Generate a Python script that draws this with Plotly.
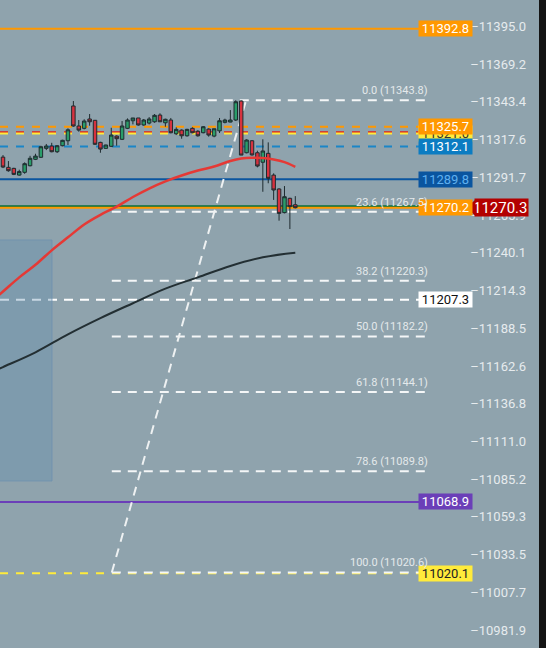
import plotly.graph_objects as go

# ---------------- data ----------------
candle_idx = list(range(55))
opens = [11304.9, 11297.9, 11297.2, 11292.6, 11294.5, 11299.0, 11303.4, 11304.8, 11310.9, 11312.5,
         11308.6, 11312.7, 11316.1, 11339.9, 11326.2, 11324.6, 11331.0, 11330.1, 11315.0, 11310.9,
         11312.3, 11319.3, 11317.1, 11324.6, 11329.8, 11331.7, 11326.9, 11328.2, 11329.1, 11333.7,
         11328.4, 11330.3, 11320.9, 11323.4, 11319.5, 11324.6, 11322.6, 11321.6, 11324.1, 11319.3,
         11322.9, 11328.7, 11328.9, 11330.3, 11343.3, 11307.9, 11316.1, 11307.9, 11301.4, 11307.5,
         11292.6, 11283.1, 11266.9, 11276.7, 11272.3]
highs = [11306.3, 11302.2, 11297.6, 11296.3, 11301.3, 11305.8, 11307.2, 11312.7, 11313.9, 11314.7,
         11313.2, 11316.8, 11324.6, 11343.3, 11330.3, 11330.8, 11334.4, 11330.3, 11315.4, 11313.4,
         11325.0, 11319.8, 11329.6, 11331.4, 11331.7, 11331.7, 11331.0, 11332.3, 11334.4, 11334.9,
         11331.2, 11331.7, 11325.3, 11323.9, 11324.3, 11325.3, 11323.4, 11326.2, 11324.6, 11324.3,
         11331.7, 11331.2, 11337.1, 11343.8, 11343.8, 11317.1, 11316.6, 11309.3, 11317.1, 11315.0,
         11293.8, 11283.6, 11285.1, 11277.1, 11278.2]
lows = [11297.4, 11294.9, 11292.6, 11292.2, 11293.5, 11298.6, 11302.9, 11304.3, 11309.7, 11308.2,
        11307.7, 11312.3, 11313.2, 11325.7, 11322.3, 11323.9, 11326.4, 11313.2, 11307.9, 11310.6,
        11311.8, 11312.7, 11316.6, 11324.1, 11327.3, 11326.4, 11326.4, 11327.3, 11328.4, 11328.9,
        11325.7, 11321.2, 11320.0, 11317.5, 11318.9, 11321.2, 11318.9, 11321.2, 11318.9, 11318.5,
        11321.4, 11328.0, 11328.7, 11329.6, 11306.3, 11307.5, 11305.9, 11297.9, 11281.2, 11287.0,
        11275.6, 11261.4, 11266.4, 11255.7, 11269.8]
closes = [11298.1, 11295.6, 11293.1, 11295.0, 11300.4, 11304.1, 11305.6, 11312.0, 11312.5, 11308.6,
          11312.7, 11316.4, 11323.6, 11326.2, 11323.4, 11329.6, 11329.1, 11313.7, 11310.4, 11313.2,
          11320.0, 11317.5, 11326.2, 11330.3, 11331.7, 11326.9, 11330.3, 11331.0, 11333.5, 11329.1,
          11330.8, 11321.6, 11323.9, 11319.5, 11323.9, 11321.6, 11319.5, 11325.7, 11320.0, 11324.3,
          11329.8, 11330.3, 11330.3, 11342.8, 11306.3, 11316.6, 11306.4, 11298.8, 11309.1, 11290.4,
          11282.4, 11266.4, 11277.8, 11271.0, 11270.3]

ma_fast_idx = [-1, 0, 3, 6, 9, 12, 15, 18, 21, 24, 27, 30, 33, 36, 39, 42, 44, 46, 48, 50, 52, 54]
ma_fast = [11209.8, 11212.9, 11222.6, 11231.2, 11241.1, 11250.0, 11258.8, 11265.4, 11271.0, 11277.6,
           11283.4, 11288.3, 11292.3, 11295.7, 11298.5, 11302.2, 11303.9, 11304.5, 11304.3, 11303.3,
           11301.5, 11298.3]
ma_slow_idx = [-1, 0, 6, 12, 18, 24, 30, 36, 42, 48, 54]
ma_slow = [11159.5, 11161.2, 11171.3, 11183.6, 11194.7, 11204.9, 11214.9, 11222.6, 11230.4, 11236.3, 11239.4]

# horizontal price levels (label drawing order: later ones on top)
level_values = [11392.8, 11322.0, 11321.0, 11325.7, 11312.1, 11289.8, 11270.2, 11207.3, 11068.9, 11020.1]
level_labels = ["11392.8", "", "11321.0", "11325.7", "11312.1", "11289.8", "11270.2", "11207.3", "11068.9", "11020.1"]
level_colors = ["#ff9800", "#e0201b", "#ffeb3b", "#ff9800", "#1a86c8", "#0a559f", "#ff9800", "#ffffff", "#6b3fb8", "#ffeb3b"]
level_dash = ["solid", "8px,8px", "8px,8px", "8px,8px", "8px,8px", "solid", "solid", "9px,7px", "solid", "8px,8px"]
label_bg = ["#ff9800", "#e0201b", "#ffeb3b", "#ff9800", "#0b7cc2", "#0a559f", "#ff9800", "#ffffff", "#6b3fb8", "#ffeb3b"]
label_fg = ["#ffffff", "#ffffff", "#333333", "#ffffff", "#ffffff", "#5fb0f0", "#ffffff", "#111111", "#ffffff", "#222222"]

last_price = 11270.3

# fibonacci retracement
fib_ratios = ["0.0", "23.6", "38.2", "50.0", "61.8", "78.6", "100.0"]
fib_values = [11343.8, 11267.5, 11220.3, 11182.2, 11144.1, 11089.8, 11020.6]
fib_start_idx, fib_end_idx = 20.1, 44.9
fib_line_end_idx = 78.9

# shaded zone
zone_x = [-1, 9.05]
zone_y = [11083.2, 11248.2]

y_ticks = [11395.0, 11369.2, 11343.4, 11317.6, 11291.7, 11265.9, 11240.1, 11214.3, 11188.5,
           11162.6, 11136.8, 11111.0, 11085.2, 11059.3, 11033.5, 11007.7, 10981.9]

# ---------------- figure ----------------
W, H = 546, 648
PLOT_W = 539
X_RANGE = [-0.554, 99.02]
Y_RANGE = [10968.9, 11412.45]


def px(p):
    return p / PLOT_W


fig = go.Figure()

fig.add_trace(go.Candlestick(
    x=candle_idx, open=opens, high=highs, low=lows, close=closes,
    increasing=dict(line=dict(color="#1e2b2f", width=1), fillcolor="#2a9d6a"),
    decreasing=dict(line=dict(color="#1e2b2f", width=1), fillcolor="#d6323f"),
    whiskerwidth=0, showlegend=False, hoverinfo="skip",
))

fig.add_trace(go.Scatter(x=ma_fast_idx, y=ma_fast, mode="lines",
                         line=dict(color="#e53935", width=2.5, shape="spline"),
                         showlegend=False, hoverinfo="skip"))
fig.add_trace(go.Scatter(x=ma_slow_idx, y=ma_slow, mode="lines",
                         line=dict(color="#232f33", width=2, shape="spline"),
                         showlegend=False, hoverinfo="skip"))

shapes = []
shapes.append(dict(type="rect", xref="x", yref="y", x0=zone_x[0], x1=zone_x[1], y0=zone_y[0], y1=zone_y[1],
                   fillcolor="rgba(95,140,175,0.35)", line=dict(color="rgba(110,145,175,0.8)", width=1),
                   layer="below"))

# current-price line (green), drawn 1.5px above so it peeks out over the orange level line
shapes.append(dict(type="line", xref="paper", yref="y", x0=0, x1=px(470),
                   ysizemode="pixel", yanchor=last_price, y0=1.5, y1=1.5,
                   line=dict(color="#08703c", width=2), layer="below"))

for v, c, d in zip(level_values, level_colors, level_dash):
    shapes.append(dict(type="line", xref="paper", yref="y", x0=0, x1=px(419), y0=v, y1=v,
                       line=dict(color=c, width=2, dash=d), layer="below"))

for v in fib_values:
    shapes.append(dict(type="line", xref="x", yref="y", x0=fib_start_idx, x1=fib_line_end_idx, y0=v, y1=v,
                       line=dict(color="#f4f6f7", width=2, dash="9px,7px"), layer="below"))
shapes.append(dict(type="line", xref="x", yref="y", x0=fib_start_idx, x1=fib_end_idx,
                   y0=fib_values[-1], y1=fib_values[0],
                   line=dict(color="#eef1f2", width=2, dash="9px,7px"), layer="below"))

half = 8.5 / 1.461
shapes.append(dict(type="path", xref="paper", yref="y",
                   path=f"M {px(466)},{last_price} L {px(476)},{last_price + half} L {px(476)},{last_price - half} Z",
                   fillcolor="#b30000", line=dict(width=0), layer="above"))

annotations = []
for v, t, bg, fg in zip(level_values, level_labels, label_bg, label_fg):
    if not t:
        continue
    annotations.append(dict(x=px(418), y=v, xref="paper", yref="y", xanchor="left", yanchor="middle",
                            text=t, showarrow=False, bgcolor=bg, width=51, height=13, borderpad=1,
                            font=dict(family="Roboto", size=13, color=fg), align="center"))
annotations.append(dict(x=px(474), y=last_price, xref="paper", yref="y", xanchor="left", yanchor="middle",
                        text=f"{last_price:.1f}", showarrow=False, bgcolor="#b30000", width=52, height=16,
                        borderpad=0.5, font=dict(family="Roboto", size=15, color="#ffffff"), align="right"))
for r, v in zip(fib_ratios, fib_values):
    annotations.append(dict(x=fib_line_end_idx, y=v, xref="x", yref="y", xanchor="right", yanchor="bottom",
                            text=f"{r} ({v:.1f})", showarrow=False, yshift=1,
                            font=dict(family="Roboto", size=11, color="#e4e9eb")))

fig.update_layout(
    width=W, height=H,
    margin=dict(l=0, r=W - PLOT_W, t=0, b=0),
    paper_bgcolor="#141414",
    plot_bgcolor="#8fa3ad",
    shapes=shapes,
    annotations=annotations,
    boxgap=0.08,
    showlegend=False,
    xaxis=dict(range=X_RANGE, visible=False, rangeslider=dict(visible=False), fixedrange=True),
    yaxis=dict(range=Y_RANGE, side="right", ticklabelposition="inside", tickvals=y_ticks,
               ticktext=["\u2013" + f"{v:.1f}" for v in y_ticks], ticks="", showgrid=False, zeroline=False,
               showline=False, ticklabelstandoff=10, ticklabelshift=1,
               tickfont=dict(family="Roboto", size=13, color="#e6ebee"), fixedrange=True),
)

fig.write_html("out.html", config={"displayModeBar": False},
               post_script="document.body.style.margin='0';document.body.style.overflow='hidden';")
